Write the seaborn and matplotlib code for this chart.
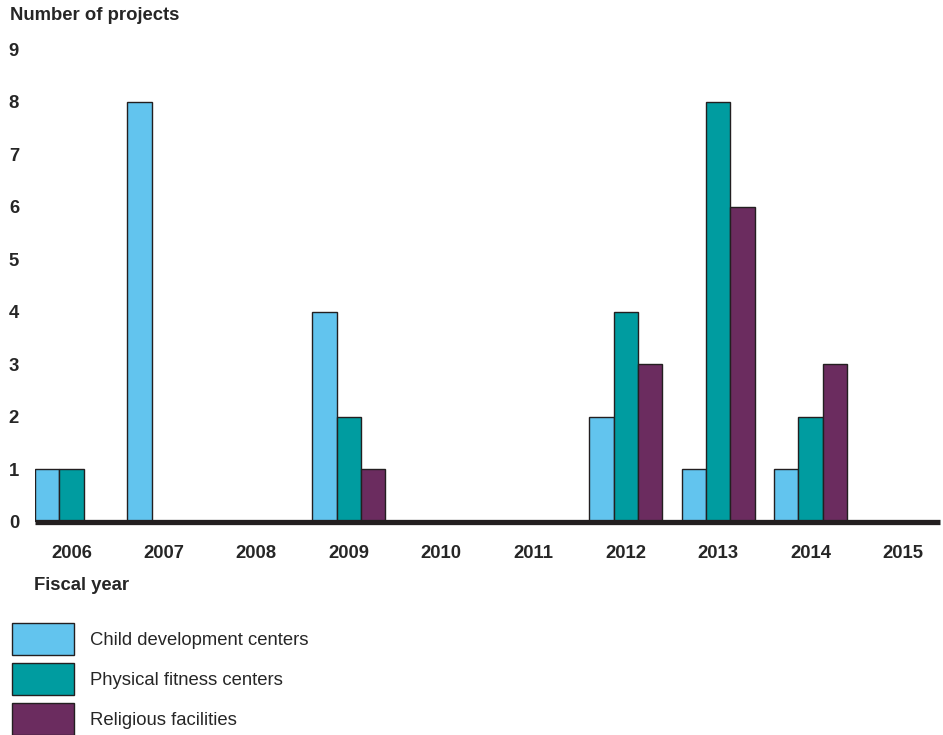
import pandas as pd
import seaborn as sns
import matplotlib.pyplot as plt
from matplotlib.patches import Patch

years = ['2006', '2007', '2008', '2009', '2010', '2011', '2012', '2013', '2014', '2015']
child = [1, 8, 0, 4, 0, 0, 2, 1, 1, 0]
fitness = [1, 0, 0, 2, 0, 0, 4, 8, 2, 0]
religious = [0, 0, 0, 1, 0, 0, 3, 6, 3, 0]
categories = ['Child development centers', 'Physical fitness centers', 'Religious facilities']
colors = ['#62C4EE', '#009CA0', '#6B2C5F']

rows = []
for name, vals in zip(categories, [child, fitness, religious]):
    for y, v in zip(years, vals):
        rows.append({'year': y, 'count': v, 'type': name})
data = pd.DataFrame(rows)

sns.set_style('white')
plt.rcParams['font.family'] = ['Liberation Sans', 'DejaVu Sans']
fs = 13.3

fig = plt.figure(figsize=(9.43, 7.35), dpi=100)
ax = fig.add_axes([35 / 943, 1 - 522 / 735, 905 / 943, 473 / 735])

sns.barplot(data=data, x='year', y='count', hue='type', order=years,
            hue_order=categories, palette=colors, saturation=1, width=0.79,
            gap=0, edgecolor='#231f20', linewidth=1, legend=False, ax=ax)

# thick baseline
ax.axhline(0, color='#231f20', lw=3.8, zorder=5, solid_capstyle='butt',
           clip_on=False)
ax.set_xlim(-0.395, 9.40)
ax.set_ylim(0, 9)
ax.set_yticks(range(10))
ax.set_xlabel('')
ax.set_ylabel('')
for s in ax.spines.values():
    s.set_visible(False)
ax.tick_params(axis='y', length=0, pad=11.5, labelsize=fs)
ax.tick_params(axis='x', length=0, pad=16.5, labelsize=fs)
for lbl in ax.get_xticklabels() + ax.get_yticklabels():
    lbl.set_fontweight('bold')

fig.text(10 / 943, 1 - 16 / 735, 'Number of projects', fontsize=fs,
         fontweight='bold', va='center', ha='left')
fig.text(34 / 943, 1 - 585 / 735, 'Fiscal year', fontsize=fs,
         fontweight='bold', va='center', ha='left')

handles = [Patch(facecolor=c, edgecolor='#231f20', linewidth=1) for c in colors]
fig.legend(handles, categories, loc='upper left',
           bbox_to_anchor=(5 / 943, 1 - 616 / 735), frameon=False,
           fontsize=fs, handlelength=3.35, handleheight=2.29,
           labelspacing=0.43, handletextpad=0.84, borderaxespad=0)

fig.savefig('out.png', dpi=100)
